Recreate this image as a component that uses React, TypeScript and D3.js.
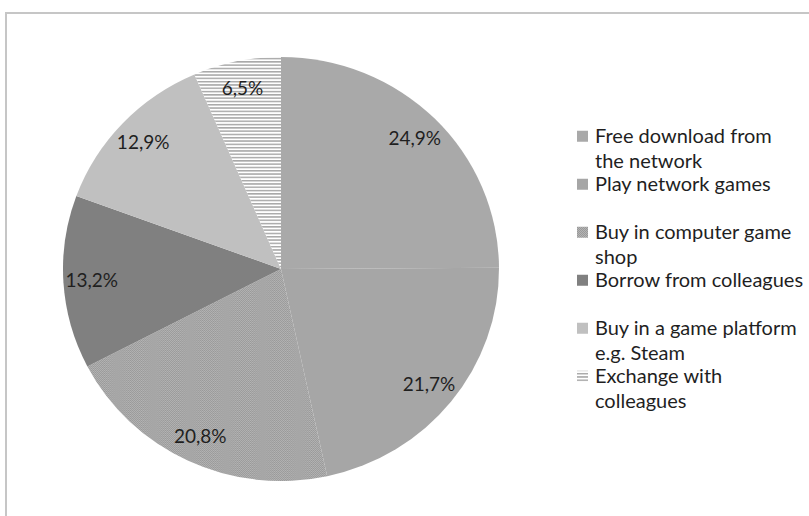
import React from "react";
import * as d3 from "d3";

const categories = [
  "Free download from the network",
  "Play network games",
  "Buy in computer game shop",
  "Borrow from colleagues",
  "Buy in a game platform e.g. Steam",
  "Exchange with colleagues",
];
const legendLines = [
  ["Free download from", "the network"],
  ["Play network games"],
  ["Buy in computer game", "shop"],
  ["Borrow from colleagues"],
  ["Buy in a game platform", "e.g. Steam"],
  ["Exchange with", "colleagues"],
];
const values = [24.9, 21.7, 20.8, 13.2, 12.9, 6.5];
const valueLabels = ["24,9%", "21,7%", "20,8%", "13,2%", "12,9%", "6,5%"];
const fills = ["#a9a9a9", "#a6a6a6", "url(#dots)", "#808080", "#c0c0c0", "url(#hstripes)"];

const W = 809;
const H = 516;
const FONT = "Lato, 'Open Sans', sans-serif";

export default function App() {
  const cx = 281;
  const cy = 269;
  const ry = 212;
  const rx = 218;
  const sx = rx / ry;

  const pie = d3.pie<number>().sort(null).value((d) => d);
  const arcs = pie(values);
  const arc = d3.arc<d3.PieArcDatum<number>>().innerRadius(0).outerRadius(ry);
  const labelArc = d3
    .arc<d3.PieArcDatum<number>>()
    .innerRadius(ry * 0.87)
    .outerRadius(ry * 0.87);

  const legendX = 577;
  const legendTop = 124;
  const slot = 48;
  const lineH = 24.5;
  const legendFont = 20;
  const labelFont = 19;

  return (
    <svg
      width={W}
      height={H}
      style={{ position: "absolute", left: 0, top: 0, background: "#fff" }}
    >
      <defs>
        <pattern id="dots" width={2} height={2} patternUnits="userSpaceOnUse">
          <rect width={2} height={2} fill="#b4b4b4" />
          <rect width={1} height={1} fill="#999999" />
          <rect x={1} y={1} width={1} height={1} fill="#999999" />
        </pattern>
        <pattern id="hstripes" width={8} height={3.3} patternUnits="userSpaceOnUse">
          <rect width={8} height={3.3} fill="#ffffff" />
          <rect width={8} height={1.5} fill="#a8a8a8" />
        </pattern>
      </defs>
      <rect x={6} y={13} width={W + 20} height={H + 20} fill="#fff" stroke="#c6c6c6" strokeWidth={2} />
      <g transform={`translate(${cx},${cy}) scale(${sx},1)`}>
        {arcs.map((a, i) => (
          <path key={categories[i]} d={arc(a) || ""} fill={fills[i]} />
        ))}
      </g>
      <g transform={`translate(${cx},${cy})`}>
        {arcs.map((a, i) => {
          const [x, y] = labelArc.centroid(a);
          return (
            <text
              key={valueLabels[i]}
              x={x * sx}
              y={y}
              dy="0.35em"
              textAnchor="middle"
              fontFamily={FONT}
              fontSize={labelFont}
              fill="#1f1f1f"
            >
              {valueLabels[i]}
            </text>
          );
        })}
      </g>
      <g>
        {legendLines.map((lines, i) => {
          const y0 = legendTop + i * slot + lineH / 2;
          return (
            <g key={categories[i]}>
              <rect x={legendX} y={y0 - 5.5} width={11} height={11} fill={fills[i]} />
              {lines.map((t, j) => (
                <text
                  key={t}
                  x={legendX + 18}
                  y={y0 + j * lineH}
                  dy="0.35em"
                  fontFamily={FONT}
                  fontSize={legendFont}
                  fill="#1f1f1f"
                >
                  {t}
                </text>
              ))}
            </g>
          );
        })}
      </g>
    </svg>
  );
}
